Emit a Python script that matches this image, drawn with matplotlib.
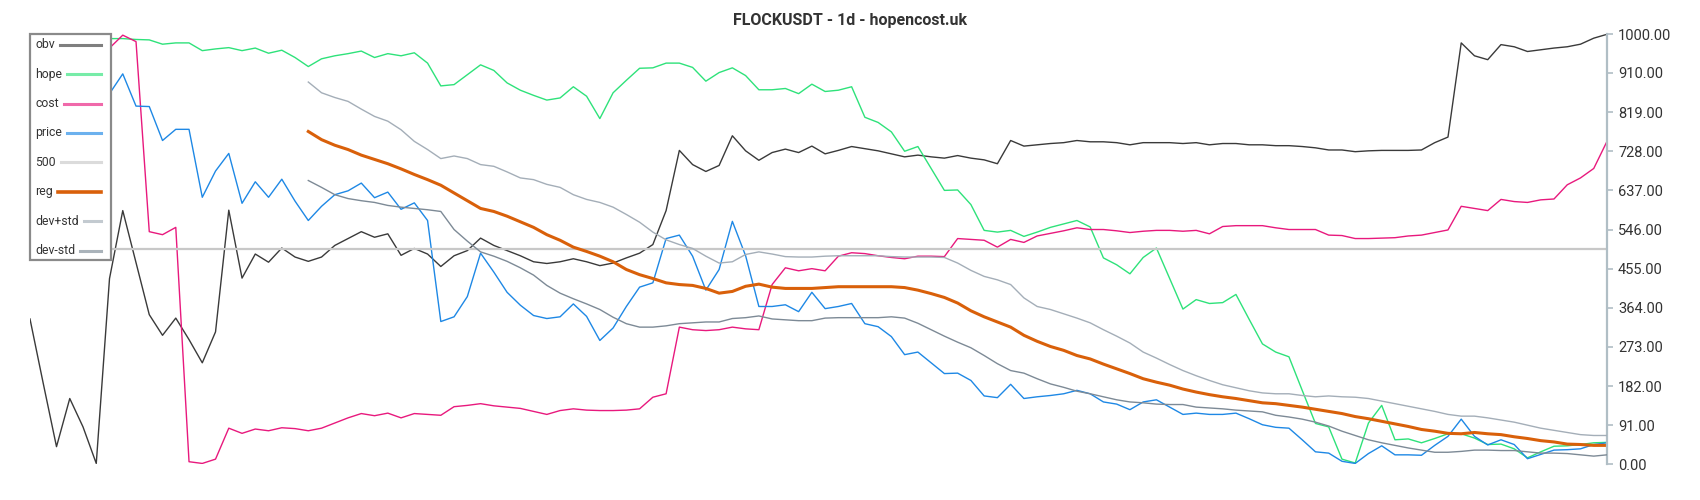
import numpy as np
import matplotlib
matplotlib.use("Agg")
import matplotlib.pyplot as plt
from matplotlib.lines import Line2D
from matplotlib.patches import Rectangle

plt.rcParams['font.family'] = ['Roboto', 'DejaVu Sans']

title = "FLOCKUSDT - 1d - hopencost.uk"
names = ["obv", "hope", "cost", "price", "500", "reg", "dev+std", "dev-std"]
colors = ["#3a3a3a", "#2ee27a", "#e8197d", "#1e88e5", "#c8c8c8", "#d9600a", "#a4aeb8", "#7d8a96"]
yticks = [0, 91, 182, 273, 364, 455, 546, 637, 728, 819, 910, 1000]

obv = [338, 188, 41, 153, 87, 2, 432, 590, 469, 348, 300, 340, 290, 236, 308, 591, 433, 489, 470, 503,
       482, 472, 482, 509, 525, 541, 528, 536, 486, 502, 489, 460, 485, 497, 526, 509, 497, 485, 471, 467,
       471, 478, 471, 462, 468, 480, 491, 511, 590, 730, 697, 681, 695, 764, 729, 707, 725, 733, 725, 740,
       722, 730, 739, 734, 729, 722, 715, 719, 715, 712, 718, 712, 708, 699, 753, 740, 743, 746, 748, 753,
       750, 750, 748, 743, 748, 748, 748, 746, 748, 743, 746, 746, 743, 743, 741, 741, 739, 736, 731,
       731, 727, 729, 730, 730, 730, 731, 748, 761, 980, 950, 941, 976, 971, 960, 964, 968, 971, 977, 991, 1000]

hope = [990, 992, 988, 990, 993, 990, 990, 990, 988, 987, 977, 980, 980, 962, 966, 969, 962, 968, 956, 963,
        946, 925, 943, 950, 955, 961, 946, 955, 950, 957, 933, 880, 883, 906, 929, 916, 887, 870, 858, 847,
        852, 878, 856, 804, 864, 893, 921, 922, 933, 933, 923, 891, 911, 922, 904, 871, 871, 874, 862, 884,
        867, 870, 878, 807, 795, 773, 728, 739, 688, 637, 638, 604, 544, 540, 544, 530, 540, 551, 559, 567,
        552, 480, 464, 443, 481, 503, 432, 361, 383, 374, 376, 395, 337, 280, 261, 250, 172, 95, 87,
        12, 3, 96, 137, 57, 59, 50, 60, 71, 71, 61, 46, 47, 36, 15, 29, 42, 43, 46, 50, 51]

cost = [960, 965, 970, 975, 970, 965, 968, 998, 983, 541, 534, 551, 6, 2, 12, 84, 72, 82, 78, 85,
        83, 78, 84, 96, 108, 118, 113, 119, 108, 118, 116, 114, 134, 137, 141, 136, 133, 130, 123, 116,
        125, 129, 126, 125, 125, 126, 129, 156, 164, 319, 313, 311, 313, 319, 315, 313, 418, 457, 450, 455,
        450, 484, 492, 490, 485, 481, 478, 484, 484, 483, 525, 523, 521, 505, 523, 516, 531, 537, 543, 550,
        546, 546, 543, 539, 542, 544, 544, 542, 544, 536, 553, 555, 555, 555, 550, 546, 546, 546, 533,
        532, 525, 525, 526, 527, 531, 533, 539, 545, 600, 595, 590, 616, 611, 609, 615, 617, 650, 666, 688, 751]

price = [840, 850, 860, 870, 860, 855, 862, 908, 833, 832, 753, 779, 779, 621, 682, 723, 607, 657, 621, 663,
         612, 567, 600, 627, 636, 654, 620, 633, 593, 608, 567, 332, 343, 390, 491, 447, 400, 370, 346, 339,
         343, 373, 344, 288, 317, 367, 412, 422, 525, 533, 484, 405, 453, 565, 485, 367, 367, 371, 355, 400,
         362, 367, 374, 327, 320, 297, 255, 261, 236, 211, 212, 195, 159, 155, 186, 153, 157, 160, 164, 172,
         164, 145, 140, 127, 145, 150, 133, 116, 119, 116, 116, 119, 106, 92, 86, 84, 57, 29, 26,
         7, 2, 25, 43, 22, 22, 21, 44, 65, 105, 65, 45, 57, 46, 13, 23, 33, 34, 36, 46, 50]

level = [500] * 120

pad = [None] * 21
dev_hi = pad + [889, 864, 853, 844, 826, 809, 798, 778, 751, 732, 711, 717, 711, 697, 693, 680, 666, 662, 651,
                644, 627, 616, 609, 598, 581, 563, 540, 522, 511, 502, 484, 468, 471, 488, 494, 489, 483, 482, 482,
                484, 485, 485, 485, 485, 483, 482, 482, 482, 481, 468, 451, 437, 429, 418, 387, 367, 360, 350, 340,
                329, 313, 298, 282, 261, 247, 232, 218, 206, 195, 185, 178, 171, 166, 164, 164, 160, 157, 159,
                157, 156, 153, 147, 141, 135, 129, 123, 116, 112, 112, 108, 103, 98, 91, 84, 79, 74, 69, 67, 67]

reg = pad + [774, 755, 742, 732, 719, 709, 699, 687, 674, 662, 649, 631, 613, 595, 588, 577, 564, 551, 534,
             521, 505, 495, 484, 471, 453, 441, 432, 422, 418, 416, 409, 398, 402, 414, 419, 412, 409, 409, 409,
             411, 413, 413, 413, 413, 413, 411, 405, 397, 388, 375, 357, 343, 331, 319, 300, 286, 274, 265, 253,
             245, 233, 222, 211, 199, 191, 184, 175, 168, 162, 157, 153, 148, 143, 141, 137, 133, 128, 123,
             118, 111, 106, 100, 94, 88, 81, 77, 72, 71, 74, 71, 69, 64, 60, 55, 52, 47, 46, 44, 44]

dev_lo = pad + [660, 644, 627, 618, 613, 609, 602, 598, 595, 592, 588, 546, 519, 494, 484, 472, 457, 440, 416,
                398, 385, 373, 360, 342, 327, 319, 319, 322, 327, 329, 331, 331, 339, 341, 345, 338, 336, 334, 334,
                340, 341, 341, 341, 341, 343, 340, 328, 313, 298, 284, 271, 253, 234, 218, 212, 199, 187, 179, 170,
                164, 157, 150, 145, 143, 140, 139, 139, 133, 131, 129, 126, 124, 122, 114, 110, 105, 98, 89,
                77, 67, 57, 50, 44, 38, 33, 28, 28, 30, 33, 33, 32, 32, 29, 26, 26, 25, 22, 19, 22]

series = [obv, hope, cost, price, level, reg, dev_hi, dev_lo]
widths = [1.0, 1.0, 1.0, 1.0, 1.6, 2.2, 1.0, 1.0]

W, H = 1700, 500
fig = plt.figure(figsize=(17, 5), dpi=100)
ax = fig.add_axes([30 / W, 1 - 464.3 / H, (1607 - 30) / W, 430 / H])

x = np.arange(120)
order = [4, 6, 7, 5, 3, 2, 1, 0]
for k in order:
    y = np.array([np.nan if v is None else v for v in series[k]], dtype=float)
    ax.plot(x, y, color=colors[k], lw=widths[k], zorder=2 + k * 0.1)

ax.set_xlim(0, 119)
ax.set_ylim(0, 1000)
for s in ["left", "top", "bottom"]:
    ax.spines[s].set_visible(False)
ax.spines["right"].set_color("#b0bec5")
ax.spines["right"].set_linewidth(1.6)
ax.set_xticks([])
ax.yaxis.tick_right()
ax.set_yticks(yticks)
ax.set_yticklabels(["%.2f" % v for v in yticks])
ax.tick_params(axis="y", colors="#b0bec5", labelcolor="#333333", length=4, width=1.2,
               labelsize=10.5, pad=4)

fig.text(0.5, 1 - 21 / H, title, ha="center", va="center", fontsize=11.5,
         fontweight="semibold", color="#333333")

# legend drawn by hand: label on the left, line filling to the right edge
def fx(px):
    return px / W

def fy(py):
    return 1 - py / H

fig.add_artist(Rectangle((fx(30), fy(260)), fx(111) - fx(30), fy(34) - fy(260),
                         transform=fig.transFigure, facecolor="white", edgecolor="#8a8a8a",
                         lw=1.6, zorder=5))
texts = []
for k, name in enumerate(names):
    py = 44.7 + 29.4 * k
    t = fig.text(fx(35), fy(py), name, ha="left", va="center", fontsize=8.8,
                 color="#333333", zorder=6)
    texts.append((t, py))

fig.canvas.draw()
r = fig.canvas.get_renderer()
for k, (t, py) in enumerate(texts):
    bb = t.get_window_extent(r)
    x0 = bb.x1 + 5
    lw = 2.6 if names[k] == "reg" else 2.2
    fig.add_artist(Line2D([x0 / W, fx(101)], [fy(py), fy(py)], transform=fig.transFigure,
                          color=colors[k], lw=lw, alpha=0.65 if names[k] != "reg" else 1.0,
                          zorder=6))

fig.savefig("out.png", dpi=100, facecolor="white")
